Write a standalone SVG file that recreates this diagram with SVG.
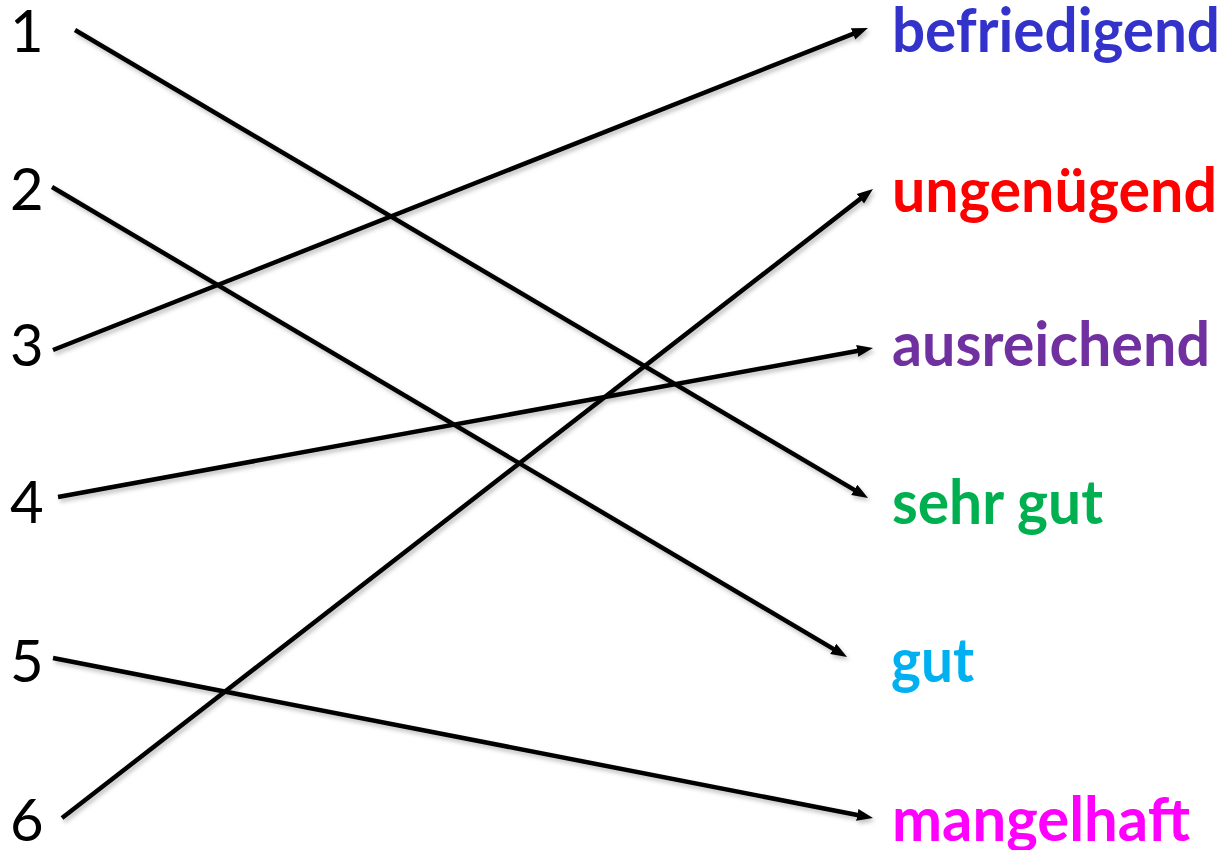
<svg xmlns="http://www.w3.org/2000/svg" width="1229" height="850" viewBox="0 0 1229 850">
  <style>
    .num { font-family: Lato, "Liberation Sans", sans-serif; font-size: 58px; fill: #000; }
    .word { font-family: Lato, "Liberation Sans", sans-serif; font-size: 61px; font-weight: bold; }
    .conn { stroke: #000; stroke-width: 4.5; fill: none; marker-end: url(#arrow); }
  </style>
  <defs>
    <marker id="arrow" markerUnits="userSpaceOnUse" viewBox="0 -7 16 14" markerWidth="16" markerHeight="14" refX="4" refY="0" orient="auto">
      <path d="M0,-6 L16,0 L0,6 z" fill="#000"/>
    </marker>
    <filter id="shadow" x="-10%" y="-10%" width="120%" height="120%">
      <feDropShadow dx="2" dy="3" stdDeviation="2" flood-color="#000" flood-opacity="0.25"/>
    </filter>
  </defs>
  <rect width="1229" height="850" fill="#fff"/>

  <g id="left-numbers">
    <g id="n1"><text class="num" x="10" y="52">1</text></g>
    <g id="n2"><text class="num" x="10" y="210">2</text></g>
    <g id="n3"><text class="num" x="10" y="366">3</text></g>
    <g id="n4"><text class="num" x="10" y="523">4</text></g>
    <g id="n5"><text class="num" x="10" y="682">5</text></g>
    <g id="n6"><text class="num" x="10" y="841">6</text></g>
  </g>

  <g id="right-words">
    <g id="w-befriedigend"><text class="word" x="892" y="52" fill="#3333CC" textLength="328" lengthAdjust="spacingAndGlyphs">befriedigend</text></g>
    <g id="w-ungenuegend"><text class="word" x="892" y="212" fill="#FF0000" textLength="325" lengthAdjust="spacingAndGlyphs">ungenügend</text></g>
    <g id="w-ausreichend"><text class="word" x="892" y="366" fill="#7030A0" textLength="318" lengthAdjust="spacingAndGlyphs">ausreichend</text></g>
    <g id="w-sehrgut"><text class="word" x="892" y="524" fill="#00B050" textLength="211" lengthAdjust="spacingAndGlyphs">sehr gut</text></g>
    <g id="w-gut"><text class="word" x="891" y="682" fill="#00B0F0" textLength="83" lengthAdjust="spacingAndGlyphs">gut</text></g>
    <g id="w-mangelhaft"><text class="word" x="892" y="841" fill="#FF00FF" textLength="298" lengthAdjust="spacingAndGlyphs">mangelhaft</text></g>
  </g>

  <g id="connectors" filter="url(#shadow)">
    <line class="conn" x1="75" y1="30" x2="857.7" y2="491.9"/>
    <line class="conn" x1="52" y1="187" x2="836.7" y2="650.9"/>
    <line class="conn" x1="53" y1="350" x2="856.8" y2="32.4"/>
    <line class="conn" x1="58" y1="497" x2="861.2" y2="350.2"/>
    <line class="conn" x1="53" y1="658" x2="861.2" y2="815.7"/>
    <line class="conn" x1="62" y1="818" x2="863.5" y2="196.4"/>
  </g>
</svg>
